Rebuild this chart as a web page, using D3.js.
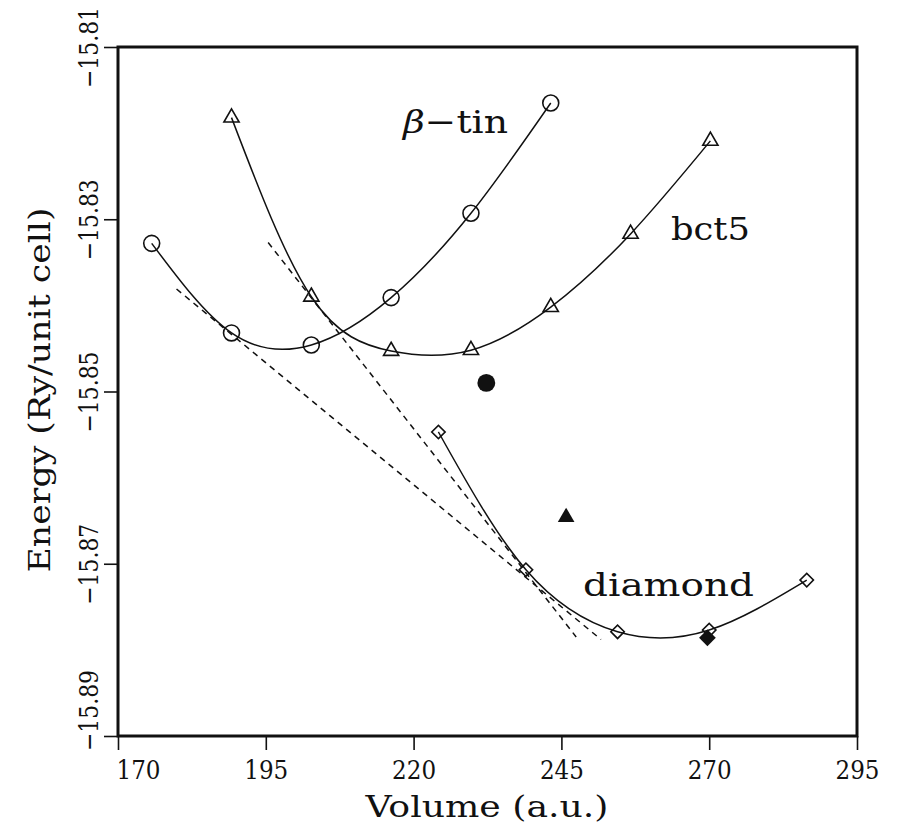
<!DOCTYPE html>
<html>
<head>
<meta charset="utf-8">
<script src="https://cdn.jsdelivr.net/npm/d3@7"></script>
<style>
  body { margin: 0; background: #fff; }
  text { font-family: "DejaVu Serif", serif; fill: #111; }
</style>
</head>
<body>
<div id="chart"></div>
<script>
// values
var betaTinVol = [175.7, 189.2, 202.7, 216.2, 229.7, 243.2]
var betaTinE = [-15.8328, -15.8432, -15.8446, -15.8391, -15.8293, -15.8165]

var bct5Vol = [189.2, 202.7, 216.2, 229.7, 243.2, 256.7, 270.2]
var bct5E = [-15.8182, -15.8390, -15.8453, -15.8452, -15.8402, -15.8317, -15.8209]

var diamondVol = [224.2, 239.0, 254.5, 270.0, 286.5]
var diamondE = [-15.8547, -15.8707, -15.8779, -15.8777, -15.8719]

var filledVol = [232.3, 245.8, 269.7]
var filledE = [-15.8490, -15.8646, -15.8786]
var filledShape = ["circle", "triangle", "diamond"]

var tangent1Vol = [179.9, 251.7]
var tangent1E = [-15.8381, -15.8788]
var tangent2Vol = [195.4, 247.5]
var tangent2E = [-15.8327, -15.8785]

var xTicks = [170, 195, 220, 245, 270, 295]
var yTicks = [-15.89, -15.87, -15.85, -15.83, -15.81]

var svgWidth = 906
var svgHeight = 832
var chartMargin = { top: 47, right: 49, bottom: 96, left: 118 }
var chartWidth = svgWidth - chartMargin.left - chartMargin.right
var chartHeight = svgHeight - chartMargin.top - chartMargin.bottom

var svg = d3.select("#chart")
    .append("svg")
    .attr("width", svgWidth)
    .attr("height", svgHeight)
svg.append("rect").attr("width", svgWidth).attr("height", svgHeight).attr("fill", "#fff")

var chartGroup = svg.append("g")
    .attr("transform", `translate(${chartMargin.left},${chartMargin.top})`)

var xScale = d3.scaleLinear().domain([170, 295]).range([0, chartWidth])
var yScale = d3.scaleLinear().domain([-15.89, -15.81]).range([chartHeight, 0])

function zip(xs, ys) {
    return xs.map((x, i) => ({ v: x, e: ys[i] }))
}

// axes
var bottomAxis = d3.axisBottom(xScale).tickValues(xTicks).tickSize(14).tickSizeOuter(0).tickFormat(d3.format("d"))
var leftAxis = d3.axisLeft(yScale).tickValues(yTicks).tickSize(14).tickSizeOuter(0).tickFormat(d3.format(".2f"))

var xAxis = chartGroup.append("g")
    .attr("transform", `translate(0,${chartHeight})`)
    .call(bottomAxis)
xAxis.select(".domain").remove()
xAxis.selectAll("line").attr("stroke", "#111").attr("stroke-width", 1.6)
xAxis.selectAll("text")
    .attr("y", 43)
    .attr("dy", 0)
    .attr("font-size", 26)
    .attr("fill", "#111")
    .attr("textLength", 44)
    .attr("lengthAdjust", "spacingAndGlyphs")
    .attr("text-anchor", (d, i) => i === 0 ? "start" : "middle")
    .attr("x", (d, i) => i === 0 ? -2 : 0)

var yAxis = chartGroup.append("g").call(leftAxis)
yAxis.select(".domain").remove()
yAxis.selectAll("line").attr("stroke", "#111").attr("stroke-width", 1.6)
// lowest label is nudged up so it clears the volume labels
yAxis.selectAll("text")
    .attr("x", (d, i) => i === 0 ? 26 : 0)
    .attr("y", 0)
    .attr("dy", 0)
    .attr("font-size", 26)
    .attr("fill", "#111")
    .attr("text-anchor", "middle")
    .attr("textLength", 81)
    .attr("lengthAdjust", "spacingAndGlyphs")
    .attr("transform", "translate(-20,0) rotate(-90)")

// frame
chartGroup.append("rect")
    .attr("width", chartWidth)
    .attr("height", chartHeight)
    .attr("fill", "none")
    .attr("stroke", "#111")
    .attr("stroke-width", 3)

// axis titles
svg.append("text")
    .attr("x", 487)
    .attr("y", 817)
    .attr("text-anchor", "middle")
    .attr("font-size", 30)
    .attr("textLength", 243)
    .attr("lengthAdjust", "spacingAndGlyphs")
    .text("Volume (a.u.)")

svg.append("text")
    .attr("transform", "translate(50,390) rotate(-90)")
    .attr("text-anchor", "middle")
    .attr("font-size", 30)
    .attr("textLength", 365)
    .attr("lengthAdjust", "spacingAndGlyphs")
    .text("Energy (Ry/unit cell)")

// dashed common tangents
var straight = d3.line().x(d => xScale(d.v)).y(d => yScale(d.e))
;[zip(tangent1Vol, tangent1E), zip(tangent2Vol, tangent2E)].forEach(t => {
    chartGroup.append("path")
        .attr("d", straight(t))
        .attr("fill", "none")
        .attr("stroke", "#111")
        .attr("stroke-width", 1.5)
        .attr("stroke-dasharray", "6,5")
})

// fitted curves
var smooth = d3.line().x(d => xScale(d.v)).y(d => yScale(d.e)).curve(d3.curveNatural)
var series = [
    { pts: zip(betaTinVol, betaTinE), sym: d3.symbolCircle, size: 200, rot: 0 },
    { pts: zip(bct5Vol, bct5E), sym: d3.symbolTriangle, size: 100, rot: 0 },
    { pts: zip(diamondVol, diamondE), sym: d3.symbolSquare, size: 90, rot: 45 }
]
series.forEach(s => {
    chartGroup.append("path")
        .attr("d", smooth(s.pts))
        .attr("fill", "none")
        .attr("stroke", "#111")
        .attr("stroke-width", 1.5)
    chartGroup.selectAll(null)
        .data(s.pts)
        .enter()
        .append("path")
        .attr("d", d3.symbol().type(s.sym).size(s.size))
        .attr("transform", d => `translate(${xScale(d.v)},${yScale(d.e)}) rotate(${s.rot})`)
        .attr("fill", "none")
        .attr("stroke", "#111")
        .attr("stroke-width", 1.6)
})

// filled markers
var filledSym = { circle: [d3.symbolCircle, 250, 0], triangle: [d3.symbolTriangle, 120, 0], diamond: [d3.symbolSquare, 140, 45] }
chartGroup.selectAll(".filled")
    .data(filledVol.map((v, i) => ({ v: v, e: filledE[i], s: filledShape[i] })))
    .enter()
    .append("path")
    .classed("filled", true)
    .attr("d", d => d3.symbol().type(filledSym[d.s][0]).size(filledSym[d.s][1])())
    .attr("transform", d => `translate(${xScale(d.v)},${yScale(d.e)}) rotate(${filledSym[d.s][2]})`)
    .attr("fill", "#111")

// curve labels
var beta = svg.append("text")
    .attr("x", 403)
    .attr("y", 133)
    .attr("font-size", 32)
    .attr("textLength", 105)
    .attr("lengthAdjust", "spacingAndGlyphs")
beta.append("tspan").attr("font-style", "italic").text("β")
beta.append("tspan").text("−tin")

svg.append("text")
    .attr("x", 671)
    .attr("y", 240)
    .attr("font-size", 32)
    .attr("textLength", 79)
    .attr("lengthAdjust", "spacingAndGlyphs")
    .text("bct5")

svg.append("text")
    .attr("x", 583)
    .attr("y", 596)
    .attr("font-size", 31)
    .attr("textLength", 171)
    .attr("lengthAdjust", "spacingAndGlyphs")
    .text("diamond")
</script>
</body>
</html>
